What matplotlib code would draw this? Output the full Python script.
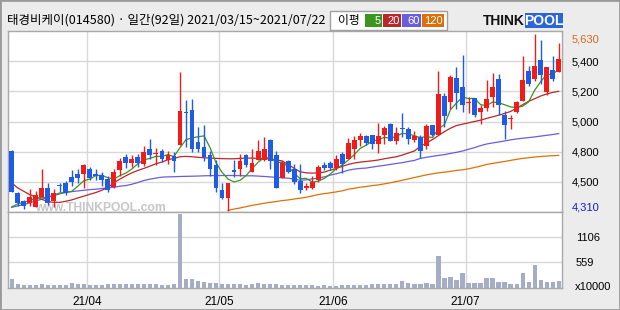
import numpy as np
import pandas as pd
import matplotlib
matplotlib.use('Agg')
import matplotlib.pyplot as plt
from matplotlib.patches import Rectangle

# 태경비케이 일봉 (2021/03/15 ~ 2021/07/22, 92 거래일)
title = '태경비케이(014580) · 일간(92일) 2021/03/15~2021/07/22'
holidays = ['2021-05-05', '2021-05-19']

opens = [4757, 4440, 4383, 4367, 4337, 4412, 4477, 4385, 4505, 4517,
         4562, 4587, 4587, 4620, 4580, 4577, 4547, 4485, 4610, 4712,
         4662, 4707, 4660, 4772, 4730, 4752, 4685, 4717, 4797, 5045,
         5060, 4822, 4787, 4727, 4652, 4462, 4407, 4605, 4622, 4727,
         4602, 4690, 4687, 4840, 4727, 4557, 4680, 4622, 4532, 4477,
         4480, 4542, 4652, 4665, 4627, 4735, 4692, 4772, 4840, 4865,
         4872, 4810, 4877, 4957, 4827, 4925, 4922, 4835, 4857, 4792,
         4952, 4872, 5167, 5122, 5297, 5230, 5115, 5150, 5045, 5077,
         5157, 5295, 5027, 4990, 5045, 5127, 5352, 5295, 5437, 5195,
         5357, 5345]
highs = [4760, 4452, 4390, 4472, 4457, 4617, 4517, 4472, 4515, 4530,
         4615, 4622, 4660, 4635, 4617, 4597, 4572, 4622, 4702, 4732,
         4727, 4735, 4792, 4847, 4777, 4772, 4757, 4747, 5347, 5135,
         5140, 4935, 4952, 4755, 4685, 4517, 4517, 4690, 4735, 4735,
         4772, 4835, 4860, 4847, 4752, 4685, 4690, 4660, 4657, 4517,
         4567, 4652, 4672, 4682, 4727, 4747, 4852, 4867, 4892, 4877,
         4877, 4967, 4942, 4965, 4935, 5042, 4937, 4907, 4877, 4957,
         4952, 5352, 5185, 5322, 5380, 5470, 5160, 5150, 5095, 5287,
         5340, 5332, 5057, 5020, 5125, 5462, 5387, 5630, 5582, 5382,
         5462, 5562]
lows = [4450, 4345, 4322, 4345, 4337, 4412, 4352, 4337, 4447, 4425,
        4493, 4517, 4477, 4535, 4535, 4497, 4452, 4477, 4572, 4627,
        4635, 4635, 4642, 4697, 4647, 4672, 4660, 4602, 4797, 4785,
        4747, 4747, 4677, 4572, 4447, 4397, 4310, 4560, 4572, 4635,
        4597, 4690, 4677, 4622, 4477, 4557, 4590, 4510, 4442, 4465,
        4472, 4522, 4610, 4610, 4610, 4592, 4692, 4697, 4792, 4797,
        4772, 4742, 4810, 4827, 4810, 4860, 4810, 4822, 4705, 4767,
        4865, 4872, 4932, 5065, 5065, 5045, 5040, 5012, 4957, 5052,
        5082, 5020, 4845, 4920, 5040, 5127, 5240, 5280, 5257, 5170,
        5277, 5345]
closes = [4452, 4367, 4347, 4415, 4430, 4480, 4367, 4442, 4493, 4442,
          4527, 4555, 4647, 4557, 4568, 4542, 4467, 4597, 4682, 4662,
          4695, 4662, 4750, 4727, 4740, 4697, 4727, 4677, 5052, 5040,
          4767, 4767, 4712, 4617, 4477, 4407, 4517, 4602, 4680, 4647,
          4667, 4757, 4772, 4677, 4482, 4662, 4602, 4527, 4465, 4497,
          4522, 4637, 4630, 4630, 4697, 4660, 4817, 4835, 4865, 4817,
          4810, 4867, 4927, 4827, 4890, 4922, 4842, 4865, 4752, 4940,
          4872, 5177, 5017, 5310, 5187, 5097, 5120, 5025, 5077, 5145,
          5232, 5095, 4952, 4997, 5120, 5282, 5252, 5387, 5320, 5382,
          5295, 5440]
# 거래량 (x10000)
volumes = [202, 94, 58, 72, 58, 94, 72, 58, 72, 72,
           115, 79, 94, 72, 65, 72, 79, 94, 79, 79,
           79, 79, 79, 79, 79, 65, 65, 79, 1606, 202,
           202, 158, 122, 101, 101, 79, 79, 94, 94, 72,
           79, 115, 94, 79, 79, 58, 58, 65, 58, 58,
           58, 50, 58, 50, 50, 58, 72, 72, 72, 72,
           79, 94, 79, 79, 79, 158, 101, 79, 79, 101,
           86, 706, 209, 230, 166, 317, 101, 101, 101, 209,
           209, 137, 122, 79, 79, 338, 122, 511, 166, 122,
           122, 151]

# 이동평균선
ma5 = [4337, 4360, 4372, 4385, 4402, 4408, 4408, 4427, 4442, 4445,
       4454, 4492, 4533, 4546, 4571, 4574, 4556, 4546, 4571, 4590,
       4621, 4660, 4690, 4699, 4715, 4715, 4728, 4714, 4779, 4839,
       4853, 4861, 4868, 4781, 4668, 4596, 4546, 4524, 4537, 4571,
       4623, 4671, 4705, 4704, 4671, 4670, 4639, 4590, 4548, 4551,
       4523, 4530, 4550, 4583, 4623, 4651, 4687, 4728, 4775, 4799,
       4829, 4839, 4857, 4850, 4864, 4887, 4882, 4869, 4854, 4864,
       4854, 4921, 4952, 5063, 5113, 5158, 5146, 5148, 5101, 5093,
       5120, 5115, 5100, 5084, 5079, 5089, 5121, 5208, 5272, 5325,
       5327, 5365]
ma20 = [4517, 4480, 4455, 4430, 4412, 4395, 4378, 4372, 4372, 4380,
        4390, 4405, 4418, 4432, 4445, 4462, 4482, 4518, 4545, 4570,
        4592, 4610, 4625, 4642, 4660, 4672, 4690, 4700, 4712, 4715,
        4712, 4708, 4705, 4702, 4700, 4698, 4697, 4697, 4700, 4702,
        4702, 4700, 4698, 4695, 4690, 4680, 4655, 4625, 4600, 4592,
        4590, 4592, 4598, 4612, 4625, 4640, 4655, 4665, 4672, 4677,
        4682, 4688, 4697, 4705, 4712, 4725, 4740, 4755, 4790, 4815,
        4840, 4870, 4900, 4925, 4945, 4955, 4965, 4975, 4985, 4998,
        5010, 5022, 5035, 5050, 5075, 5100, 5125, 5145, 5165, 5180,
        5192, 5200]
ma60 = [4335, 4345, 4355, 4368, 4382, 4395, 4410, 4422, 4435, 4447,
        4452, 4457, 4462, 4467, 4470, 4475, 4480, 4485, 4492, 4497,
        4507, 4520, 4535, 4545, 4553, 4560, 4562, 4563, 4565, 4566,
        4567, 4568, 4570, 4571, 4572, 4572, 4572, 4572, 4571, 4570,
        4570, 4568, 4565, 4562, 4558, 4555, 4552, 4545, 4537, 4540,
        4547, 4552, 4562, 4575, 4585, 4597, 4612, 4620, 4625, 4628,
        4635, 4642, 4648, 4655, 4662, 4668, 4677, 4685, 4700, 4708,
        4715, 4722, 4728, 4737, 4745, 4755, 4768, 4780, 4795, 4807,
        4815, 4822, 4830, 4838, 4845, 4850, 4855, 4860, 4866, 4872,
        4878, 4885]
ma120 = [None] * 36 + [
        4312, 4322, 4330, 4340, 4350, 4357, 4365, 4372, 4378, 4385,
        4390, 4397, 4403, 4410, 4420, 4430, 4437, 4443, 4450, 4458,
        4470, 4477, 4485, 4490, 4497, 4502, 4510, 4518, 4527, 4537,
        4547, 4557, 4567, 4577, 4585, 4592, 4597, 4603, 4610, 4615,
        4622, 4632, 4642, 4655, 4662, 4670, 4677, 4685, 4693, 4700,
        4705, 4710, 4714, 4717, 4720, 4722]

price_labels = ['4,500', '4,800', '5,000', '5,200', '5,400']
vol_labels = ['559', '1106']
ma_names = ['5', '20', '60', '120']
ma_colors = ['#3c9421', '#b8272a', '#6a5ddb', '#dd7008']

up_color = '#f01c1c'
down_color = '#1f5ce6'

# 거래일 달력
days = pd.bdate_range('2021-03-15', '2021-07-22')
days = days[~days.isin(pd.to_datetime(holidays))]
x = np.arange(len(days))
month_start = [i for i in x if i == 0 or days[i].month != days[i - 1].month][1:]
month_pos = [i - 0.5 for i in month_start]
month_lbl = [days[i].strftime('%y/%m') for i in month_start]

o = np.array(opens, float)
h = np.array(highs, float)
l = np.array(lows, float)
c = np.array(closes, float)
v = np.array(volumes, float)

W, H = 620, 310
def box(x0, y0, x1, y1):
    return [x0 / W, 1 - y1 / H, (x1 - x0) / W, (y1 - y0) / H]

fig = plt.figure(figsize=(6.2, 3.1), dpi=100)
fig.patch.set_facecolor('#ececec')
ax = fig.add_axes(box(8, 31, 562, 212))
axv = fig.add_axes(box(8, 212, 562, 288), sharex=ax)

lab_font = dict(family='Liberation Sans', size=8)

# 가격 차트
ylo, yhi = 4300, 5650
ax.set_ylim(ylo, yhi)
ax.set_xlim(-0.6, len(x) - 0.45)
ax.set_yticks(np.linspace(ylo, yhi, 7)[1:-1])
ax.set_yticklabels(price_labels, **lab_font)
ax.yaxis.tick_right()
ax.tick_params(axis='y', length=0, pad=7)
ax.tick_params(axis='x', length=0, labelbottom=False)
ax.grid(axis='y', color='#d8d8d8', lw=1)
for p in month_pos:
    ax.axvline(p, color='#d8d8d8', lw=1, zorder=0)
ax.set_axisbelow(True)

# 워터마크
ax.text(35 / W, 1 - 211 / H, 'www.THINKPOOL.com', transform=fig.transFigure,
        color='#c6c6c6', va='baseline', zorder=1, family='Liberation Sans',
        fontsize=8.7, fontweight='bold', clip_on=True)

for vals, col in zip([ma120, ma60, ma20, ma5], ma_colors[::-1]):
    arr = np.array([np.nan if q is None else q for q in vals], float)
    ax.plot(x, arr, color=col, lw=0.9, zorder=2)

colors = np.where(c >= o, up_color, down_color)
ax.vlines(x, l, h, colors=colors, lw=1, zorder=3)
body_lo = np.minimum(o, c)
body_h = np.maximum(np.abs(c - o), 8)
ax.bar(x, body_h, bottom=body_lo, width=0.8, color=colors, lw=0, zorder=4)

imax, imin = int(np.argmax(h)), int(np.argmin(l))
ax.annotate(f'{h[imax]:,.0f}', xy=(1, h[imax]), xycoords=('axes fraction', 'data'),
            xytext=(7, -4), textcoords='offset points', va='center',
            color='#d2691e', **lab_font)
ax.annotate(f'{l[imin]:,.0f}', xy=(1, l[imin]), xycoords=('axes fraction', 'data'),
            xytext=(7, 2), textcoords='offset points', va='center',
            color='#1a1ad0', **lab_font)

# 거래량
vtop = 1659
axv.bar(x, v, width=0.7, color='#a4acc6', lw=0, zorder=3)
axv.set_ylim(0, vtop)
axv.set_yticks([559, 1106])
axv.set_yticklabels(vol_labels, **lab_font)
axv.yaxis.tick_right()
axv.tick_params(axis='y', length=0, pad=10)
axv.grid(axis='y', color='#d8d8d8', lw=1)
for p in month_pos:
    axv.axvline(p, color='#d8d8d8', lw=1, zorder=0)
axv.set_xticks(month_pos)
axv.set_xticklabels(month_lbl, family='Liberation Sans', size=8.5)
axv.tick_params(axis='x', length=0, pad=6)
axv.set_axisbelow(True)
fig.text(575 / W, 1 - 287 / H, 'x10000', va='center', ha='left', **lab_font)

for a in (ax, axv):
    a.set_facecolor('white')
    for s in a.spines.values():
        s.set_color('#a8a8a8')
        s.set_linewidth(1)

# 머리글
fig.text(7 / W, 1 - 20 / H, title, family=['Noto Sans CJK KR', 'DejaVu Sans'],
         fontsize=9, va='center', ha='left')

fig.patches.append(Rectangle((330 / W, 1 - 30 / H), 117 / W, 19 / H,
                             transform=fig.transFigure, facecolor='white',
                             edgecolor='#a0a0a0', lw=1))
fig.text(338 / W, 1 - 20.5 / H, '이평', family=['Noto Sans CJK KR', 'DejaVu Sans'],
         fontsize=8.5, va='center', ha='left')
edges = [365, 383, 402, 422, 445]
for k, (name, col) in enumerate(zip(ma_names, ma_colors)):
    x0, x1 = edges[k], edges[k + 1] - 1
    fig.patches.append(Rectangle((x0 / W, 1 - 27 / H), (x1 - x0) / W, 13 / H,
                                 transform=fig.transFigure, facecolor=col, lw=0))
    fig.text((x1 - 1.5) / W, 1 - 20.5 / H, name, color='white', ha='right',
             va='center', family='Liberation Sans', fontsize=8)

# 로고
fig.text(483 / W, 1 - 21 / H, 'THINK', family='Liberation Sans', fontweight='bold',
         fontsize=10, va='center', ha='left', color='#111111')
fig.patches.append(Rectangle((525 / W, 1 - 28 / H), 38 / W, 15 / H,
                             transform=fig.transFigure, facecolor='#2a66d8', lw=0))
fig.text(544 / W, 1 - 21 / H, 'POOL', family='Liberation Sans', fontweight='bold',
         fontsize=10, va='center', ha='center', color='white')

# 바깥 테두리
fig.patches.append(Rectangle((0, 0), 1, 1, transform=fig.transFigure,
                             facecolor='none', edgecolor='#9a9a9a', lw=2))

plt.savefig('out.png', dpi=100, facecolor=fig.get_facecolor())
plt.close()
